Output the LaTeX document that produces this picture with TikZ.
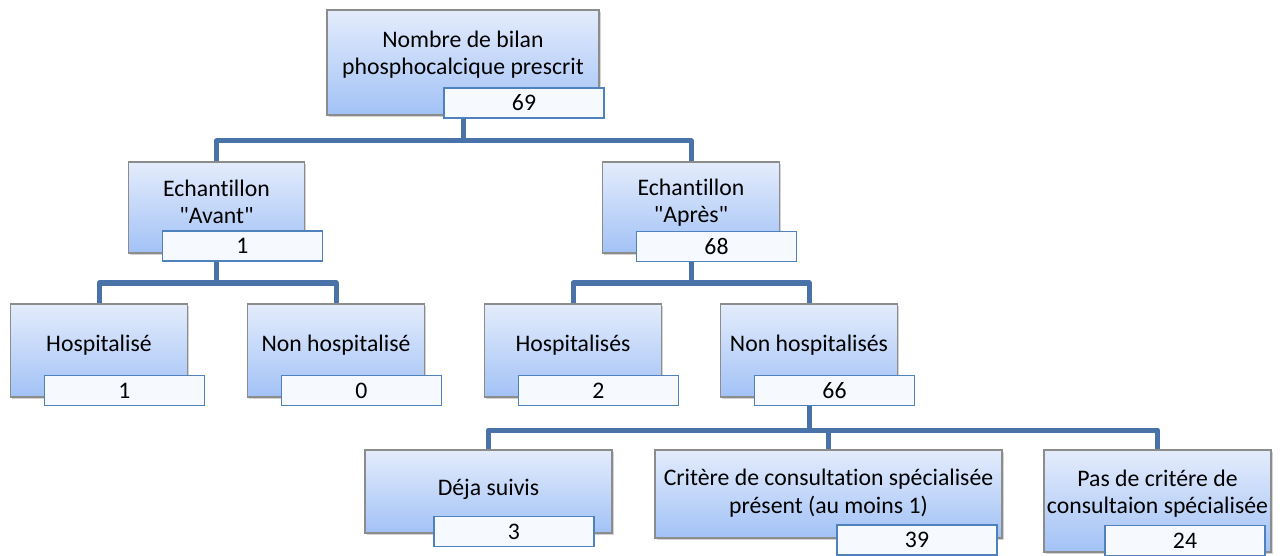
\documentclass[tikz,border=0pt]{standalone}
\usepackage{fontspec}
\setmainfont{Carlito}[Ligatures={TeXOff,CommonOff}]
\usetikzlibrary{calc,positioning,shadows}

\definecolor{linkblue}{RGB}{72,114,168}
\definecolor{boxtop}{RGB}{228,236,252}
\definecolor{boxbot}{RGB}{162,194,246}
\definecolor{boxline}{RGB}{140,140,140}
\definecolor{cntline}{RGB}{79,129,189}
\definecolor{cntfill}{RGB}{246,249,254}

\newcommand{\diagfont}{\fontsize{17.8}{20.5}\selectfont}

\tikzset{
  box/.style 2 args={rectangle, draw=boxline, line width=0.9pt,
    top color=boxtop, bottom color=boxbot, inner sep=0pt,
    minimum width=#1, minimum height=#2,
    drop shadow={shadow xshift=1.2pt, shadow yshift=-1.8pt, opacity=0.35}},
  cnt/.style={rectangle, draw=cntline, line width=1.1pt, fill=cntfill,
    minimum width=120pt, minimum height=22.5pt, inner sep=0pt, font=\diagfont},
  lbl/.style={align=center, inner sep=0pt, yshift=-4.75pt, font=\diagfont},
  link/.style={draw=linkblue, line width=3.75pt, line join=round}
}

\begin{document}
\begin{tikzpicture}[x=0.75pt,y=-0.75pt]
  \useasboundingbox (0,0) rectangle (1286,556);
  \coordinate (bus1) at (0,141);
  \coordinate (bus2) at (0,283);
  \coordinate (bus3) at (0,430);
  % level 1
  \node[box={204pt}{78.75pt}] (top) at (463,62.5) {};
  \node[cnt] (n69) at (524,103) {69};
  % level 2
  \node[box={132.5pt}{68.25pt}] (avant) at (216.5,207.5) {};
  \node[cnt] (n1a) at (242.5,246) {1};
  \node[box={132.5pt}{68.25pt}] (apres) at (691,207.5) {};
  \node[cnt] (n68) at (716.5,246.5) {68};
  % level 3
  \node[box={132.5pt}{69.75pt}] (hosp) at (99,350.5) {};
  \node[cnt] (n1b) at (124.5,390.5) {1};
  \node[box={133pt}{69.75pt}] (nonhosp) at (336,350.5) {};
  \node[cnt] (n0) at (361.5,390.5) {0};
  \node[box={133pt}{69.75pt}] (hosps) at (573,350.5) {};
  \node[cnt] (n2) at (598.5,390.5) {2};
  \node[box={132.5pt}{69.75pt}] (nonhosps) at (809,350.5) {};
  \node[cnt] (n66) at (834.5,390.5) {66};
  % level 4
  \node[box={185.25pt}{62.25pt}] (deja) at (488.5,491.5) {};
  \node[cnt] (n3) at (514,531.5) {3};
  \node[box={260.25pt}{66pt}] (crit) at (828.5,494) {};
  \node[cnt] (n39) at (917,540) {39};
  \node[box={170.25pt}{76.5pt}] (pas) at (1157.5,501) {};
  \node[cnt] (n24) at (1185,540.5) {24};
  % texts
  \node[lbl] (topT) at ($(top.north)!.5!(top.north |- n69.north)$) {Nombre de bilan\\phosphocalcique prescrit};
  \node[lbl] (avantT) at ($(avant.north)!.5!(avant.north |- n1a.north)$) {Echantillon\\"Avant"};
  \node[lbl] (apresT) at ($(apres.north)!.5!(apres.north |- n68.north)$) {Echantillon\\"Après"};
  \node[lbl] (hospT) at ($(hosp.north)!.5!(hosp.north |- n1b.north)$) {Hospitalisé};
  \node[lbl] (nonhospT) at ($(nonhosp.north)!.5!(nonhosp.north |- n0.north)$) {Non hospitalisé};
  \node[lbl] (hospsT) at ($(hosps.north)!.5!(hosps.north |- n2.north)$) {Hospitalisés};
  \node[lbl] (nonhospsT) at ($(nonhosps.north)!.5!(nonhosps.north |- n66.north)$) {Non hospitalisés};
  \node[lbl] (dejaT) at ($(deja.north)!.5!(deja.north |- n3.north)$) {Déja suivis};
  \node[lbl] (critT) at ($(crit.north)!.5!(crit.north |- n39.north)$) {Critère de consultation spécialisée\\présent (au moins 1)};
  \node[lbl] (pasT) at ($(pas.north)!.5!(pas.north |- n24.north)$) {Pas de critére de\\consultaion spécialisée};
  % connectors
  \draw[link] (n69.south -| top) |- (bus1 -| avant) -- (avant.north);
  \draw[link] (n69.south -| top) |- (bus1 -| apres) -- (apres.north);
  \draw[link] (n1a.south -| avant) |- (bus2 -| hosp) -- (hosp.north);
  \draw[link] (n1a.south -| avant) |- (bus2 -| nonhosp) -- (nonhosp.north);
  \draw[link] (n68.south -| apres) |- (bus2 -| hosps) -- (hosps.north);
  \draw[link] (n68.south -| apres) |- (bus2 -| nonhosps) -- (nonhosps.north);
  \draw[link] (n66.south -| nonhosps) |- (bus3 -| deja) -- (deja.north);
  \draw[link] (n66.south -| nonhosps) |- (bus3 -| crit) -- (crit.north);
  \draw[link] (n66.south -| nonhosps) |- (bus3 -| pas) -- (pas.north);
\end{tikzpicture}
\end{document}
